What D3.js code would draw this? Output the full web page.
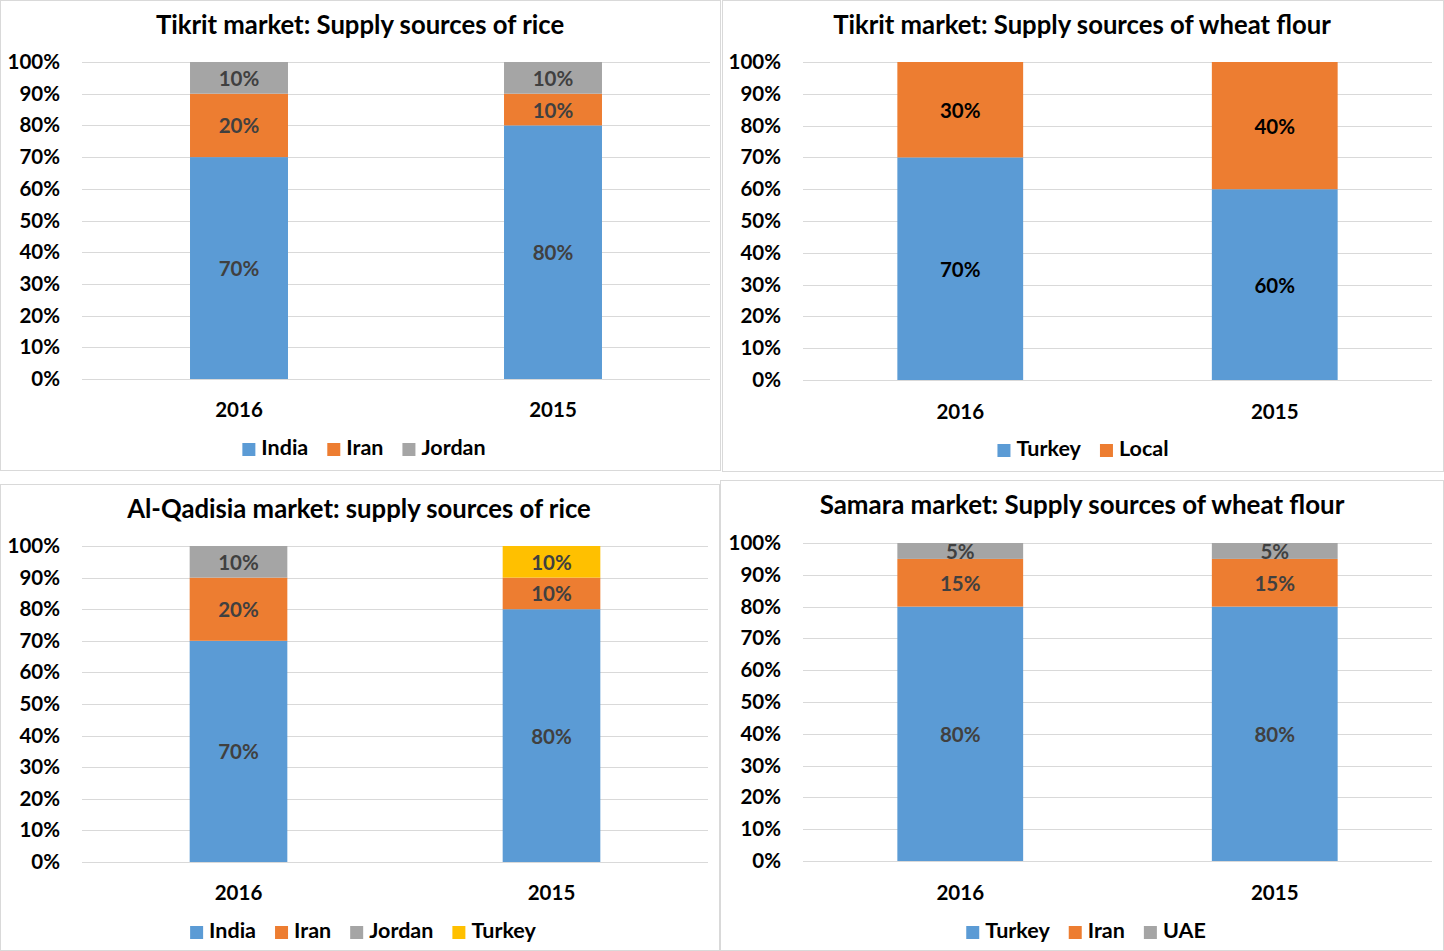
<!DOCTYPE html>
<html>
<head>
<meta charset="utf-8">
<script src="https://cdn.jsdelivr.net/npm/d3@7"></script>
<style>
  html, body { margin: 0; padding: 0; background: #fff; }
  svg { display: block; }
  text { font-family: Lato, "Open Sans", sans-serif; font-weight: 700; }
</style>
</head>
<body>
<svg id="chart" width="1444" height="951"></svg>
<script>
// ---- data ----
const years = ["2016", "2015"];
const percentTicks = [0, 10, 20, 30, 40, 50, 60, 70, 80, 90, 100];

// Tikrit rice
const tikritRiceSeries = ["India", "Iran", "Jordan"];
const tikritRiceIndia = [70, 80];
const tikritRiceIran = [20, 10];
const tikritRiceJordan = [10, 10];

// Tikrit wheat flour
const tikritWheatSeries = ["Turkey", "Local"];
const tikritWheatTurkey = [70, 60];
const tikritWheatLocal = [30, 40];

// Al-Qadisia rice
const qadisiaRiceSeries = ["India", "Iran", "Jordan", "Turkey"];
const qadisiaRiceIndia = [70, 80];
const qadisiaRiceIran = [20, 10];
const qadisiaRiceJordan = [10, 0];
const qadisiaRiceTurkey = [0, 10];

// Samara wheat flour
const samaraWheatSeries = ["Turkey", "Iran", "UAE"];
const samaraWheatTurkey = [80, 80];
const samaraWheatIran = [15, 15];
const samaraWheatUAE = [5, 5];

const palette = ["#5b9bd5", "#ed7d31", "#a5a5a5", "#ffc000"];

const svg = d3.select("#chart");

function drawPanel(cfg) {
  const g = svg.append("g");
  // panel frame
  g.append("rect")
    .attr("x", cfg.box[0] + 0.5).attr("y", cfg.box[1] + 0.5)
    .attr("width", cfg.box[2]).attr("height", cfg.box[3])
    .attr("fill", "#fff").attr("stroke", "#d9d9d9").attr("stroke-width", 1);

  // title
  g.append("text")
    .attr("x", cfg.titleX).attr("y", cfg.titleY)
    .attr("text-anchor", "middle")
    .attr("font-size", cfg.titleSize).attr("fill", "#000")
    .text(cfg.title);

  const x = d3.scaleBand().domain(years)
    .range([cfg.plot.x0, cfg.plot.x1])
    .paddingInner(cfg.pad).paddingOuter(cfg.pad / 2);
  const y = d3.scaleLinear().domain([0, 100]).range([cfg.plot.y0, cfg.plot.y1]);

  // gridlines
  g.append("g").selectAll("line").data(percentTicks).join("line")
    .attr("x1", cfg.plot.x0).attr("x2", cfg.plot.x1)
    .attr("y1", d => Math.round(y(d)) + 0.5).attr("y2", d => Math.round(y(d)) + 0.5)
    .attr("stroke", "#d9d9d9").attr("stroke-width", 1);

  // y axis labels
  const yAxis = d3.axisLeft(y).tickValues(percentTicks).tickFormat(d => d + "%").tickSize(0).tickPadding(0);
  const ya = g.append("g").attr("transform", `translate(${cfg.yLabelX},0)`).call(yAxis);
  ya.select(".domain").remove();
  ya.selectAll("text").attr("font-size", 20.5).attr("fill", "#000")
    .style("font-family", "Lato, sans-serif").style("font-weight", 700);

  // stacked bars
  const rows = years.map((yr, i) => {
    const r = { year: yr };
    cfg.series.forEach((s, k) => { r[s] = cfg.values[k][i]; });
    return r;
  });
  const stacked = d3.stack().keys(cfg.series)(rows);
  const layers = g.append("g").selectAll("g").data(stacked).join("g")
    .attr("fill", (d, k) => palette[k]);
  layers.selectAll("rect").data(d => d.filter(p => p[1] - p[0] > 0)).join("rect")
    .attr("x", p => x(p.data.year))
    .attr("width", x.bandwidth())
    .attr("y", p => y(p[1]))
    .attr("height", p => y(p[0]) - y(p[1]));

  // data labels
  layers.selectAll("text").data(d => d.filter(p => p[1] - p[0] > 0)).join("text")
    .attr("x", p => x(p.data.year) + x.bandwidth() / 2)
    .attr("y", p => (y(p[0]) + y(p[1])) / 2 + 8)
    .attr("text-anchor", "middle")
    .attr("font-size", 20.5)
    .attr("fill", cfg.labelColor)
    .text(p => (p[1] - p[0]) + "%");

  // x axis labels
  const xAxis = d3.axisBottom(x).tickSize(0).tickPadding(0);
  const xa = g.append("g").attr("transform", `translate(0,${cfg.xLabelY})`).call(xAxis);
  xa.select(".domain").remove();
  xa.selectAll("text").attr("font-size", 20.5).attr("fill", "#000").attr("dy", 0)
    .style("font-family", "Lato, sans-serif").style("font-weight", 700);

  // legend
  const leg = g.append("g");
  const items = leg.selectAll("g").data(cfg.series).join("g");
  items.append("rect").attr("width", 13).attr("height", 13).attr("y", -12)
    .attr("fill", (d, k) => palette[k]);
  items.append("text").attr("x", 19).attr("font-size", 21.5).attr("fill", "#000").text(d => d);
  let cx = 0;
  items.each(function () {
    const w = 19 + d3.select(this).select("text").node().getComputedTextLength();
    d3.select(this).attr("transform", `translate(${cx},0)`);
    cx += w + 19;
  });
  const total = cx - 19;
  leg.attr("transform", `translate(${cfg.legendX - total / 2},${cfg.legendY})`);
}

drawPanel({
  box: [0, 0, 720, 470], title: "Tikrit market: Supply sources of rice",
  titleX: 360, titleY: 34, titleSize: 25.7,
  plot: { x0: 82, x1: 710, y0: 379, y1: 62 }, pad: 0.688,
  yLabelX: 60, xLabelY: 417, legendX: 364, legendY: 455,
  series: tikritRiceSeries, values: [tikritRiceIndia, tikritRiceIran, tikritRiceJordan],
  labelColor: "#404040"
});
drawPanel({
  box: [722, 0, 721, 471], title: "Tikrit market: Supply sources of wheat flour",
  titleX: 1082, titleY: 34, titleSize: 25.7,
  plot: { x0: 803, x1: 1432, y0: 380, y1: 62 }, pad: 0.6,
  yLabelX: 781, xLabelY: 419, legendX: 1083, legendY: 456,
  series: tikritWheatSeries, values: [tikritWheatTurkey, tikritWheatLocal],
  labelColor: "#000"
});
drawPanel({
  box: [0, 484, 719, 466], title: "Al-Qadisia market: supply sources of rice",
  titleX: 359, titleY: 518, titleSize: 25.7,
  plot: { x0: 82, x1: 708, y0: 862, y1: 546 }, pad: 0.688,
  yLabelX: 60, xLabelY: 900, legendX: 363, legendY: 938,
  series: qadisiaRiceSeries, values: [qadisiaRiceIndia, qadisiaRiceIran, qadisiaRiceJordan, qadisiaRiceTurkey],
  labelColor: "#404040"
});
drawPanel({
  box: [720, 480, 723, 470], title: "Samara market: Supply sources of wheat flour",
  titleX: 1082, titleY: 514, titleSize: 25.9,
  plot: { x0: 803, x1: 1432, y0: 861, y1: 543 }, pad: 0.6,
  yLabelX: 781, xLabelY: 900, legendX: 1086, legendY: 938,
  series: samaraWheatSeries, values: [samaraWheatTurkey, samaraWheatIran, samaraWheatUAE],
  labelColor: "#404040"
});
</script>
</body>
</html>
